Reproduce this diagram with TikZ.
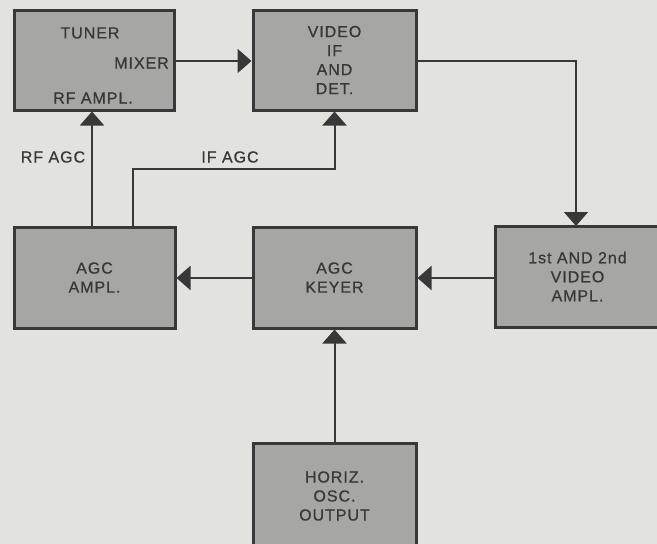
\documentclass[tikz,border=0pt]{standalone}
\usepackage{fontspec}
\setmainfont[LetterSpace=6,FakeBold=0.7]{Liberation Sans}
\usetikzlibrary{arrows.meta}
\definecolor{bg}{HTML}{E2E2DF}
\definecolor{boxfill}{HTML}{A6A6A4}
\definecolor{ink}{HTML}{383838}
\tikzset{
  blk/.style={draw=ink, line width=3pt, fill=boxfill, minimum width=160pt, minimum height=100pt, inner sep=0pt, text=ink, align=center, font=\fontsize{16}{19}\selectfont},
  lbl/.style={text=ink, inner sep=0pt, font=\fontsize{16}{19}\selectfont},
  arr/.style={draw=ink, line width=2pt, -{Triangle[length=14pt,width=24pt]}},
}
\begin{document}
\begin{tikzpicture}[x=1pt,y=-1pt]
\fill[bg] (0,0) rectangle (657,544);
\useasboundingbox (0,0) rectangle (657,544);
\clip (0,0) rectangle (657,544);
\node[blk] (tuner) at (94,60) {};
\node[lbl] (tunerT) at (90,33) {TUNER};
\node[lbl, anchor=east] (mixerT) at (169,63) {MIXER};
\node[lbl] (rfT) at (93,98) {RF AMPL.};
\node[blk, minimum width=163pt] (vif) at (334.5,60) {VIDEO\\IF\\AND\\DET.};
\node[blk, minimum width=161pt, minimum height=101pt] (ampl) at (94.5,277.5) {AGC\\AMPL.};
\node[blk, minimum width=163pt, minimum height=101pt] (keyer) at (334.5,277.5) {AGC\\KEYER};
\node[blk, minimum width=170pt, minimum height=101pt] (vid) at (580,276.5) {};
\node[lbl, align=center] (vidT) at (577.5,276.5) {1st AND 2nd\\VIDEO\\AMPL.};
\node[blk, minimum width=163pt, minimum height=130pt] (horiz) at (334.5,508) {};
\node[lbl, align=center] (horizT) at (334.5,496) {HORIZ.\\OSC.\\OUTPUT};
\coordinate (ifc) at (133,169);
\coordinate (vdn) at (576,226);
\draw[arr] (tuner.east |- 0,61) -- (vif.west |- 0,61);
\draw[arr] (vif.east |- 0,61) -| (vdn);
\draw[arr] (vid.west |- 0,278) -- (keyer.east |- 0,278);
\draw[arr] (keyer.west |- 0,278) -- (ampl.east |- 0,278);
\draw[arr] (horiz.north) -- (keyer.south);
\draw[arr] ([xshift=-2.5pt]ampl.north) -- ([xshift=-2pt]tuner.south);
\draw[arr] (ampl.north -| ifc) -- (ifc) -| (vif.south);
\node[lbl] (rfagc) at (53,157) {RF AGC};
\node[lbl] (ifagc) at (230,157) {IF AGC};
\end{tikzpicture}
\end{document}
